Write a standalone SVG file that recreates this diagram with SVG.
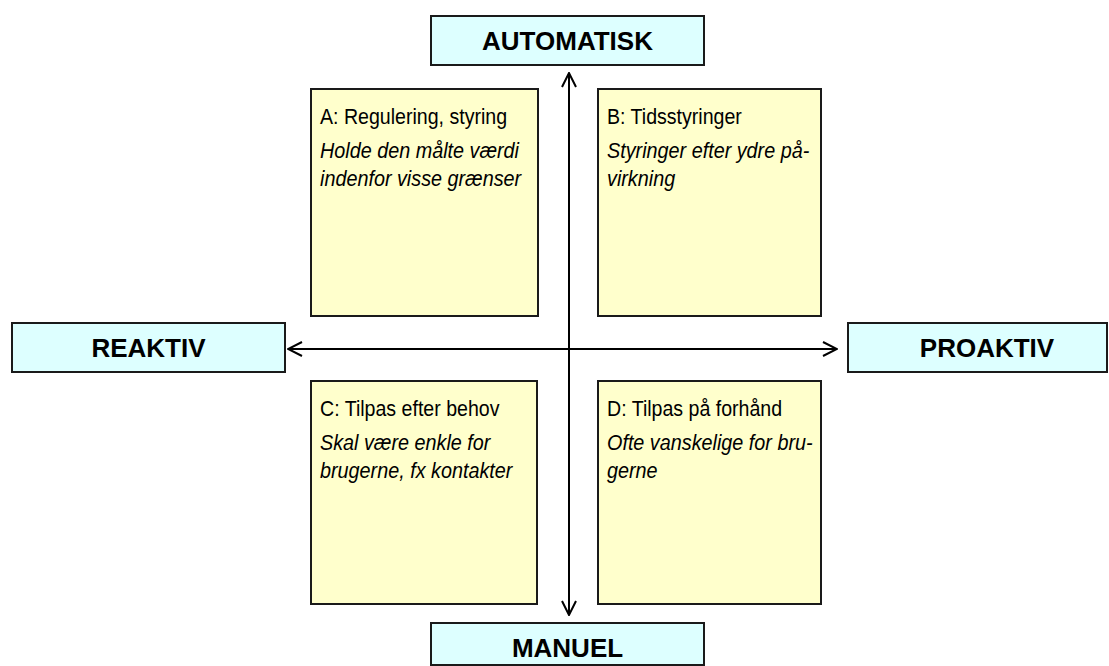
<svg xmlns="http://www.w3.org/2000/svg" width="1109" height="666" viewBox="0 0 1109 666">
<defs>
<style>
.axis{fill:#DDFFFF;stroke:#1a1a1a;stroke-width:2}
.quad{fill:#FFFFCC;stroke:#1a1a1a;stroke-width:2}
.lbl{font-family:"Liberation Sans",Arial,sans-serif;font-weight:bold;font-size:26px;fill:#000;text-anchor:middle}
.h{font-family:"Liberation Sans",Arial,sans-serif;font-size:22px;fill:#000}
.i{font-family:"Liberation Sans",Arial,sans-serif;font-size:22px;font-style:italic;fill:#000}
.ln{stroke:#000;stroke-width:2;fill:none}
</style>
<marker id="ah" viewBox="0 0 16 16" refX="15" refY="8" markerWidth="16" markerHeight="16" markerUnits="userSpaceOnUse" orient="auto-start-reverse">
<path d="M1,1 L15,8 L1,15" fill="none" stroke="#000" stroke-width="2"/>
</marker>
</defs>
<rect width="1109" height="666" fill="#fff"/>
<g id="connectors">
<line class="ln" x1="569" y1="73" x2="569" y2="615" marker-start="url(#ah)" marker-end="url(#ah)"/>
<line class="ln" x1="288" y1="349" x2="837" y2="349" marker-start="url(#ah)" marker-end="url(#ah)"/>
</g>
<g id="automatisk"><rect class="axis" x="431" y="16" width="273" height="49"/><text class="lbl" x="567.5" y="50">AUTOMATISK</text></g>
<g id="manuel"><rect class="axis" x="431" y="623" width="273" height="42"/><text class="lbl" x="567.5" y="657">MANUEL</text></g>
<g id="reaktiv"><rect class="axis" x="12" y="323" width="273" height="49"/><text class="lbl" x="148.5" y="357">REAKTIV</text></g>
<g id="proaktiv"><rect class="axis" x="848" y="323" width="259" height="49"/><text class="lbl" x="987" y="357">PROAKTIV</text></g>
<g id="quadA"><rect class="quad" x="311" y="89" width="227" height="227"/>
<text class="h" transform="translate(320,124) scale(0.89,1)">A: Regulering, styring</text>
<text class="i" transform="translate(320,158) scale(0.9,1)">Holde den målte værdi</text>
<text class="i" transform="translate(320,186) scale(0.9,1)">indenfor visse grænser</text></g>
<g id="quadB"><rect class="quad" x="598" y="89" width="223" height="227"/>
<text class="h" transform="translate(607,124) scale(0.89,1)">B: Tidsstyringer</text>
<text class="i" transform="translate(607,158) scale(0.9,1)">Styringer efter ydre på-</text>
<text class="i" transform="translate(607,186) scale(0.9,1)">virkning</text></g>
<g id="quadC"><rect class="quad" x="311" y="381" width="226" height="223"/>
<text class="h" transform="translate(320,416) scale(0.89,1)">C: Tilpas efter behov</text>
<text class="i" transform="translate(320,450) scale(0.9,1)">Skal være enkle for</text>
<text class="i" transform="translate(320,478) scale(0.9,1)">brugerne, fx kontakter</text></g>
<g id="quadD"><rect class="quad" x="598" y="381" width="223" height="223"/>
<text class="h" transform="translate(607,416) scale(0.89,1)">D: Tilpas på forhånd</text>
<text class="i" transform="translate(607,450) scale(0.9,1)">Ofte vanskelige for bru-</text>
<text class="i" transform="translate(607,478) scale(0.9,1)">gerne</text></g>
</svg>
